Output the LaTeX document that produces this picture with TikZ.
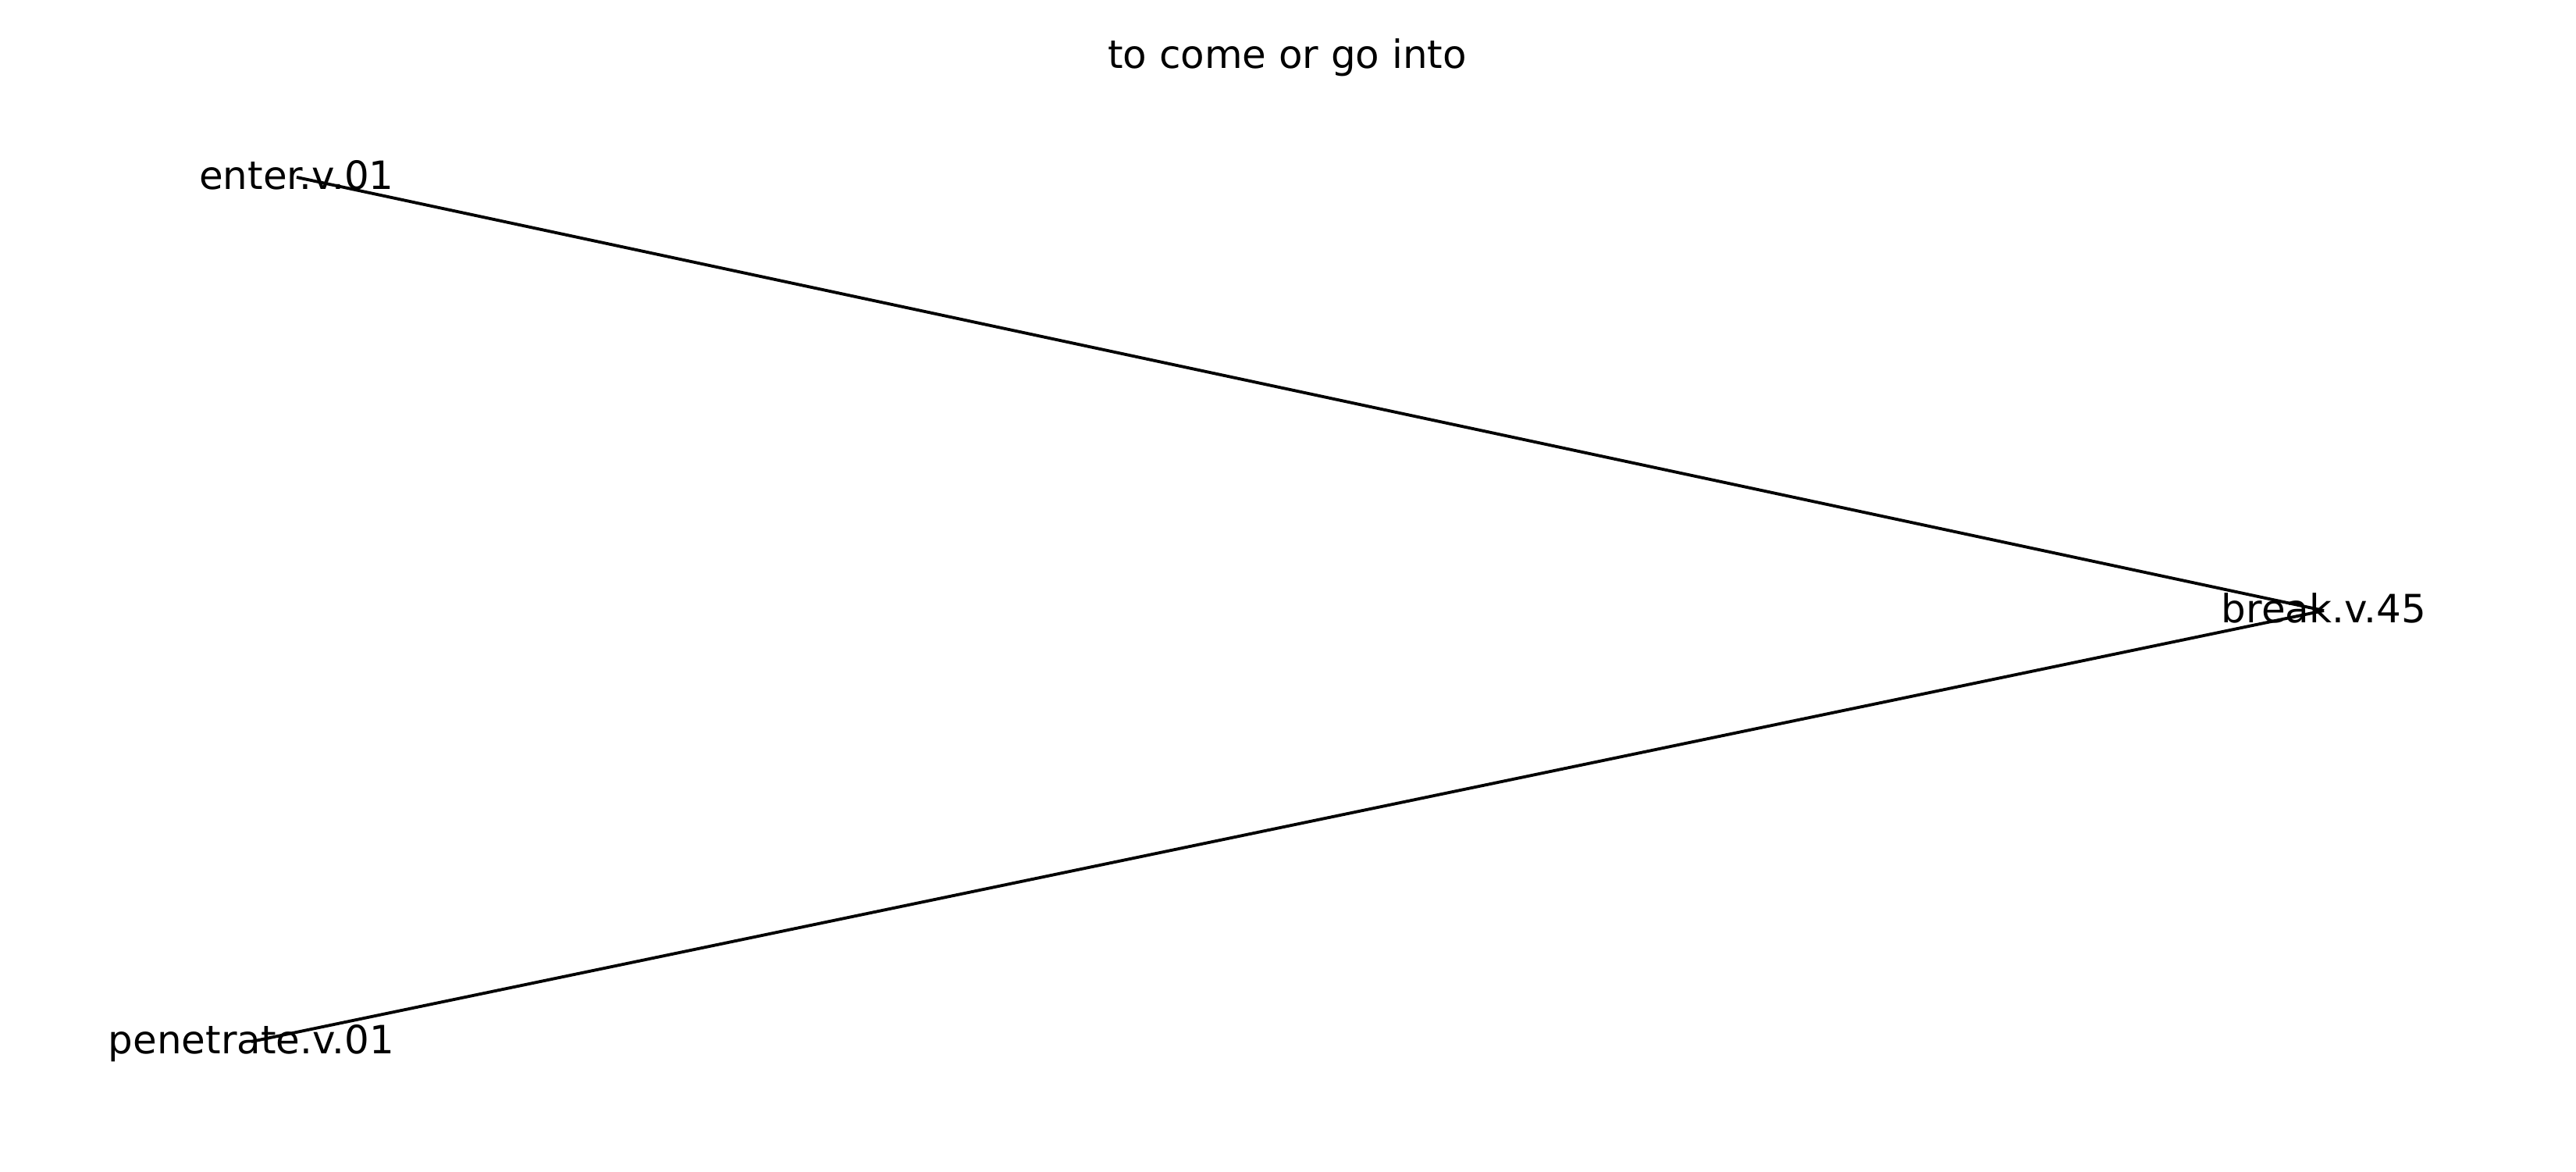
\documentclass[tikz,border=0pt]{standalone}
\usepackage{fontspec}
\setmainfont{DejaVu Sans}

\tikzset{
  synset/.style={inner sep=0pt,text height=.38cm,text depth=.07cm,font=\fontsize{14.2}{17}\selectfont},
  hyper/.style={black,line width=1.1pt}
}

\begin{document}
\begin{tikzpicture}
\useasboundingbox (0,0) rectangle (33,15);
\node[anchor=base,font=\fontsize{14.2}{17}\selectfont] (title) at (16.49,14.12) {to come or go into};
% synset nodes
\node[synset] (enter) at (3.80,12.73) {enter.v.01};
\node[synset] (break) at (29.77,7.18) {break.v.45};
\node[synset] (penetrate) at (3.22,1.66) {penetrate.v.01};
% edges
\draw[hyper] (enter.center) -- (break.center);
\draw[hyper] (penetrate.center) -- (break.center);
\end{tikzpicture}
\end{document}
